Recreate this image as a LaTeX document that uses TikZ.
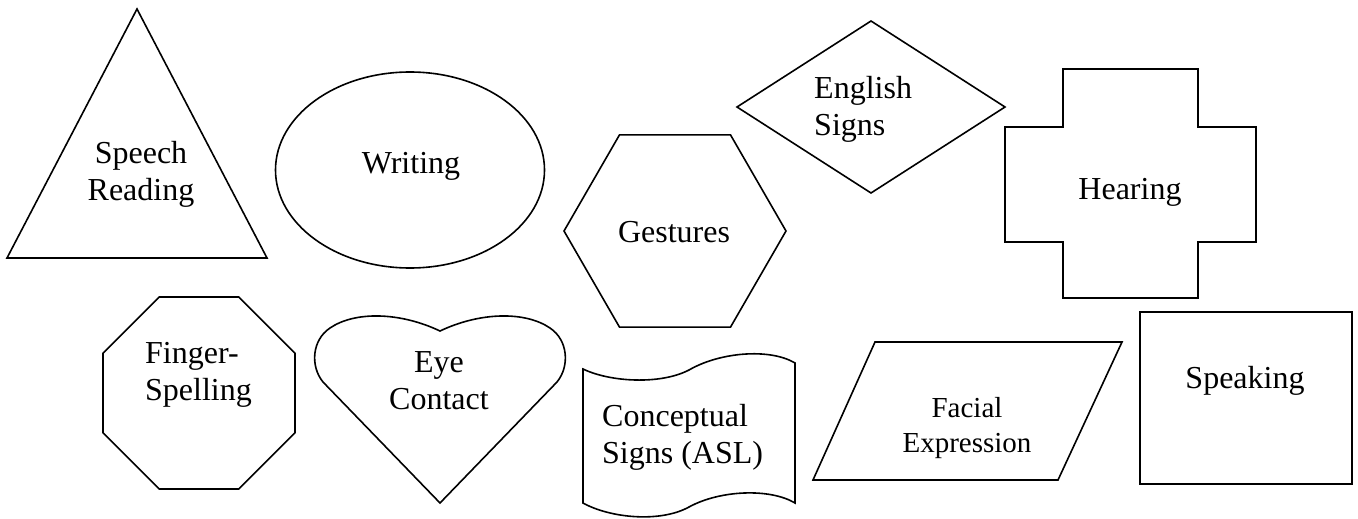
\documentclass[tikz,border=0pt]{standalone}
\usepackage{fontspec}
\setmainfont{Liberation Serif}
\usetikzlibrary{shapes.geometric}

\begin{document}
\begin{tikzpicture}[x=1pt,y=-1pt,
  outline/.style={draw,line width=1.6pt,inner sep=0pt,outer sep=0pt},
  txt/.style={inner sep=0pt,font=\fontsize{32}{37}\selectfont,align=center},
  smalltxt/.style={txt,font=\fontsize{29}{35}\selectfont}
]
\useasboundingbox (0,0) rectangle (1358,519);

% top row
\draw[outline] (137,9) -- (267,258) -- (7,258) -- cycle;
\node[txt] (speech) at (141,174) {Speech\\Reading};

\node[outline,ellipse,minimum width=269pt,minimum height=196pt] (oval) at (410,170) {};
\node[txt,anchor=base] (writing) at (411,173) {Writing};

\node[outline,regular polygon,regular polygon sides=6,minimum size=222pt] (hex) at (675,231) {};
\node[txt,anchor=base] (gestures) at (674,242) {Gestures};

\node[outline,diamond,minimum width=268pt,minimum height=172pt] (dia) at (871,107) {};
\node[txt,align=left,anchor=west] (english) at (814,109) {English\\Signs};

\draw[outline] (1063,69) -- (1198,69) -- (1198,127) -- (1256,127) -- (1256,242)
  -- (1198,242) -- (1198,298) -- (1063,298) -- (1063,242) -- (1005,242)
  -- (1005,127) -- (1063,127) -- cycle;
\node[txt,anchor=base] (hearing) at (1130,199) {Hearing};

% bottom row
\node[outline,regular polygon,regular polygon sides=8,minimum size=207.8pt] (oct) at (199,393) {};
\node[txt,align=left,anchor=west] (finger) at (145,375) {Finger-\\Spelling};

\draw[outline] (440,503) -- (323,382) .. controls (310,366) and (312,340) .. (330,328)
  .. controls (355,311) and (400,312) .. (440,331)
  .. controls (480,312) and (525,311) .. (550,328)
  .. controls (568,340) and (570,366) .. (557,382) -- cycle;
\node[txt] (eye) at (439,381) {Eye\\Contact};

\draw[outline] (583,369) .. controls (610,382) and (660,385) .. (689,370)
  .. controls (720,352) and (770,348) .. (795,363) -- (795,503)
  .. controls (770,488) and (720,490) .. (689,507)
  .. controls (660,523) and (610,518) .. (583,503) -- cycle;
\node[txt,align=left,anchor=west] (asl) at (602,437) {Conceptual\\Signs (ASL)};

\draw[outline] (875,342) -- (1122,342) -- (1058,480) -- (813,480) -- cycle;
\node[smalltxt] (facial) at (967,428) {Facial\\Expression};

\node[outline,minimum width=212pt,minimum height=172pt] (box) at (1246,398) {};
\node[txt,anchor=base] (speaking) at (1245,388) {Speaking};

\end{tikzpicture}
\end{document}
